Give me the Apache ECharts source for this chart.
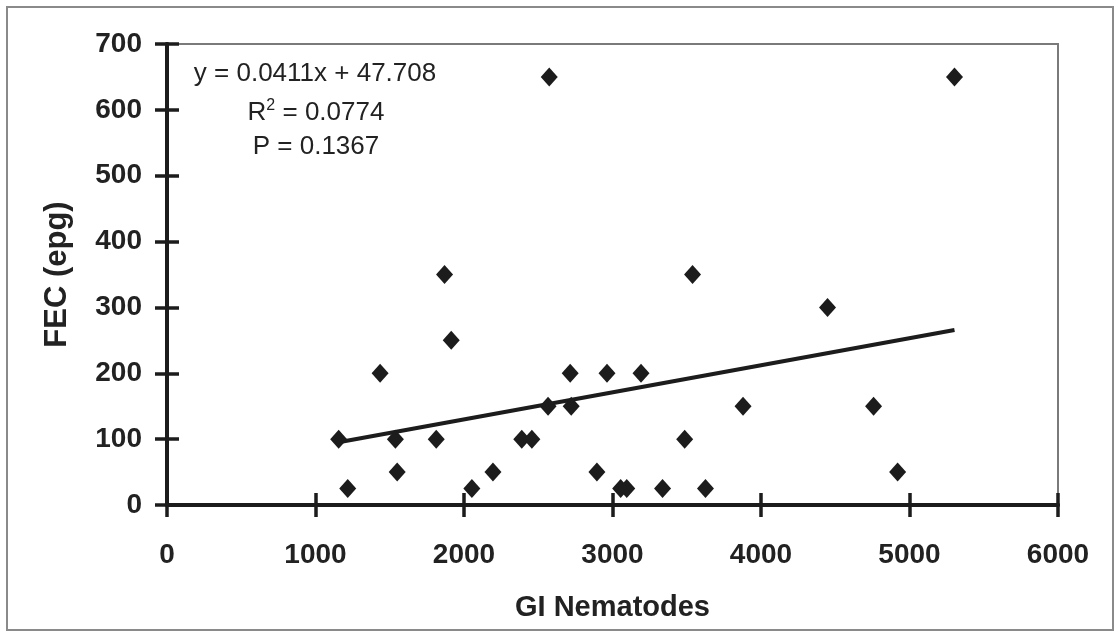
<!DOCTYPE html>
<html>
<head>
<meta charset="utf-8">
<script src="https://cdn.jsdelivr.net/npm/echarts@6/dist/echarts.min.js"></script>
<style>
  html, body { margin: 0; padding: 0; background: #ffffff; }
  #chart { width: 1118px; height: 632px; }
</style>
</head>
<body>
<div id="chart"></div>
<script>
// GI nematode counts and faecal egg counts (eggs per gram) per animal
const nematodes = [1156, 1217, 1435, 1538, 1550, 1813, 1869, 1914, 2053, 2195,
                   2389, 2457, 2566, 2574, 2715, 2722, 2895, 2963, 3055, 3096,
                   3192, 3337, 3486, 3539, 3626, 3879, 4448, 4758, 4920, 5303];
const fec = [100, 25, 200, 100, 50, 100, 350, 250, 25, 50,
             100, 100, 150, 650, 200, 150, 50, 200, 25, 25,
             200, 25, 100, 350, 25, 150, 300, 150, 50, 650];

// Linear fit reported on the chart
const slope = 0.0411;
const intercept = 47.708;
const rSquared = '0.0774';
const pValue = '0.1367';

const xTicks = { min: 0, max: 6000, interval: 1000 };
const yTicks = { min: 0, max: 700, interval: 100 };

const points = nematodes.map((x, i) => [x, fec[i]]);
const xLo = Math.min(...nematodes);
const xHi = Math.max(...nematodes);
const fitLine = [[xLo, slope * xLo + intercept], [xHi, slope * xHi + intercept]];

const ink = '#1c1c1c';
const font = '"Liberation Sans", Arial, Helvetica, sans-serif';

// Each axis is drawn twice (ticks outside, then inside) so the tick marks cross the axis line
function valueAxis(range, primary, extra) {
  return Object.assign({
    type: 'value',
    min: range.min,
    max: range.max,
    interval: range.interval,
    splitLine: { show: false },
    axisLine: { show: true, onZero: false, lineStyle: { color: ink, width: 4 } },
    axisTick: { show: true, inside: !primary, length: 12, lineStyle: { color: ink, width: 3.5 } },
    axisLabel: primary ? {
      show: true, color: '#222', fontFamily: font, fontWeight: 'bold', fontSize: 28,
      formatter: v => String(v)
    } : { show: false }
  }, extra);
}

const chart = echarts.init(document.getElementById('chart'), null, { renderer: 'canvas' });

chart.setOption({
  backgroundColor: '#ffffff',
  animation: false,
  grid: {
    left: 167, top: 44, right: 60, bottom: 127,
    show: true, borderColor: '#7a7a7a', borderWidth: 2, backgroundColor: 'transparent'
  },
  xAxis: [
    valueAxis(xTicks, true, {
      position: 'bottom',
      name: 'GI Nematodes',
      nameLocation: 'middle',
      nameGap: 88,
      nameTextStyle: { color: '#222', fontFamily: font, fontWeight: 'bold', fontSize: 29 },
      axisLabel: { color: '#222', fontFamily: font, fontWeight: 'bold', fontSize: 28, margin: 36,
                   formatter: v => String(v) }
    }),
    valueAxis(xTicks, false, { position: 'bottom', offset: 0 })
  ],
  yAxis: [
    valueAxis(yTicks, true, {
      position: 'left',
      name: 'FEC (epg)',
      nameLocation: 'middle',
      nameGap: 94,
      nameRotate: 90,
      nameTextStyle: { color: '#222', fontFamily: font, fontWeight: 'bold', fontSize: 31 },
      axisLabel: { color: '#222', fontFamily: font, fontWeight: 'bold', fontSize: 28, margin: 25,
                   formatter: v => String(v) }
    }),
    valueAxis(yTicks, false, { position: 'left', offset: 0 })
  ],
  series: [
    {
      type: 'line',
      data: fitLine,
      xAxisIndex: 0,
      yAxisIndex: 0,
      symbol: 'none',
      lineStyle: { color: ink, width: 4 },
      z: 3
    },
    {
      type: 'scatter',
      data: points,
      xAxisIndex: 0,
      yAxisIndex: 0,
      symbol: 'diamond',
      symbolSize: [17, 19],
      itemStyle: { color: ink, opacity: 1 },
      z: 4
    }
  ],
  graphic: [
    {
      type: 'rect',
      shape: { x: 7, y: 7, width: 1106, height: 623 },
      style: { fill: 'none', stroke: '#8a8a8a', lineWidth: 2 },
      silent: true,
      z: 0
    },
    {
      type: 'text',
      x: 315, y: 74,
      style: {
        text: 'y = ' + slope + 'x + ' + intercept,
        font: '26px ' + font, fill: '#222',
        textAlign: 'center', textVerticalAlign: 'middle'
      }
    },
    {
      type: 'text',
      x: 316, y: 112,
      style: {
        text: '{r|R}{sup|2}{r| = ' + rSquared + '}',
        rich: {
          r: { fontSize: 26, fontFamily: font, fill: '#222', verticalAlign: 'bottom' },
          sup: { fontSize: 16, fontFamily: font, fill: '#222', verticalAlign: 'top', padding: [0, 0, 12, 0] }
        },
        textAlign: 'center', textVerticalAlign: 'middle'
      }
    },
    {
      type: 'text',
      x: 316, y: 147,
      style: {
        text: 'P = ' + pValue,
        font: '26px ' + font, fill: '#222',
        textAlign: 'center', textVerticalAlign: 'middle'
      }
    }
  ]
});
</script>
</body>
</html>
